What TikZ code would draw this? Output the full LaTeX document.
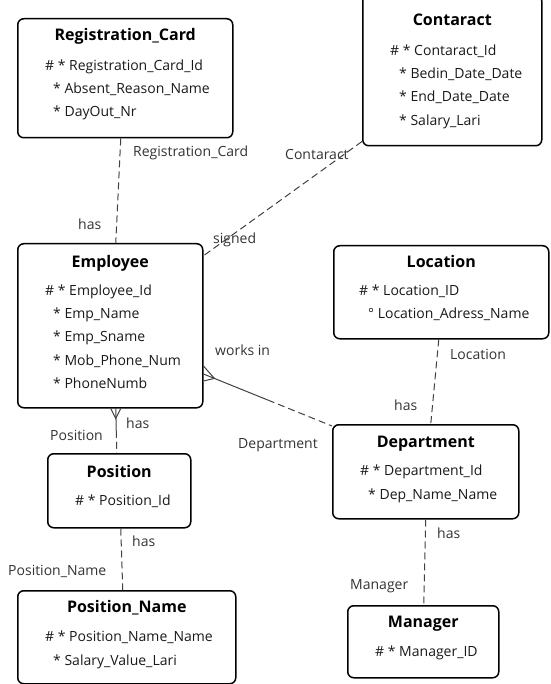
\documentclass[tikz,border=0pt]{standalone}
\usepackage{fontspec}
\setmainfont{Open Sans}
\usetikzlibrary{calc}

\tikzset{
  entity/.style={draw=black, line width=1.5pt, rounded corners=6pt, anchor=north west, inner sep=0pt},
  heading/.style={inner sep=0pt, text height=11.5pt, text depth=3.5pt, font=\fontsize{16}{18}\selectfont\bfseries},
  attr/.style={anchor=west, inner sep=0pt, text height=10pt, text depth=3.5pt, font=\fontsize{14}{16}\selectfont, text=black!90},
  role/.style={attr, text=black!80},
  rel/.style={line width=1pt, draw=black!75, dash pattern=on 7pt off 4pt},
  solidrel/.style={line width=1pt, draw=black!75}
}

\begin{document}
\begin{tikzpicture}[x=1pt, y=-1pt]
  \useasboundingbox (0,0) rectangle (550,684);
  \clip (0,0) rectangle (550,684);

  % entities
  \node[entity, minimum width=215, minimum height=119] (regcard) at (17,18) {};
  \node[heading] (regcard-t) at ($(regcard.north)+(0,19)$) {Registration\_Card};
  \node[attr] (regcard-1) at (45,67) {\# * Registration\_Card\_Id};
  \node[attr] (regcard-2) at (53,90) {* Absent\_Reason\_Name};
  \node[attr] (regcard-3) at (53,113) {* DayOut\_Nr};

  \node[entity, minimum width=179, minimum height=151] (contaract) at (362,-6) {};
  \node[heading] (contaract-t) at ($(contaract.north)+(0,28)$) {Contaract};
  \node[attr] (contaract-1) at (390,52) {\# * Contaract\_Id};
  \node[attr] (contaract-2) at (399,75) {* Bedin\_Date\_Date};
  \node[attr] (contaract-3) at (399,98) {* End\_Date\_Date};
  \node[attr] (contaract-4) at (399,122) {* Salary\_Lari};

  \node[entity, minimum width=185, minimum height=164] (emp) at (17,243) {};
  \node[heading] (emp-t) at ($(emp.north)+(0,20)$) {Employee};
  \node[attr] (emp-1) at (45,292) {\# * Employee\_Id};
  \node[attr] (emp-2) at (53,315) {* Emp\_Name};
  \node[attr] (emp-3) at (53,338) {* Emp\_Sname};
  \node[attr] (emp-4) at (53,362) {* Mob\_Phone\_Num};
  \node[attr] (emp-5) at (53,385) {* PhoneNumb};

  \node[entity, minimum width=215, minimum height=93] (location) at (333,245) {};
  \node[heading] (location-t) at ($(location.north)+(0,18)$) {Location};
  \node[attr] (location-1) at (359,292) {\# * Location\_ID};
  \node[attr] (location-2) at (368,315) {° Location\_Adress\_Name};

  \node[entity, minimum width=186, minimum height=94] (dept) at (332,424) {};
  \node[heading] (dept-t) at ($(dept.north)+(0,19)$) {Department};
  \node[attr] (dept-1) at (360,472) {\# * Department\_Id};
  \node[attr] (dept-2) at (368,496) {* Dep\_Name\_Name};

  \node[entity, minimum width=151, minimum height=72] (mgr) at (347,605) {};
  \node[heading] (mgr-t) at ($(mgr.north)+(0,18)$) {Manager};
  \node[attr] (mgr-1) at (375,653) {\# * Manager\_ID};

  \node[entity, minimum width=143, minimum height=74] (position) at (47,453) {};
  \node[heading] (position-t) at ($(position.north)+(0,20)$) {Position};
  \node[attr] (position-1) at (75,502) {\# * Position\_Id};

  \node[entity, minimum width=218, minimum height=93] (posname) at (17,590) {};
  \node[heading] (posname-t) at ($(posname.north)+(0,18)$) {Position\_Name};
  \node[attr] (posname-1) at (45,638) {\# * Position\_Name\_Name};
  \node[attr] (posname-2) at (53,662) {* Salary\_Value\_Lari};

  % relations
  \draw[rel] ($(regcard.south)+(-4.5,0)$) -- ($(emp.north)+(5.5,0)$);
  \node[role] (l-regcard) at (133,153) {Registration\_Card};
  \node[role] (l-regcard-has) at (78,226) {has};

  \draw[rel] ($(contaract.south west)+(0,-5)$) -- ($(emp.north east)+(1,12)$);
  \node[role] (l-contaract) at (285,156) {Contaract};
  \node[role] (l-signed) at (213,240) {signed};

  \coordinate (wfoot) at ($(emp.north east)+(0,131)$);
  \coordinate (wend) at ($(dept.north west)+(0,2)$);
  \coordinate (wtip) at ($(wfoot)!0.085!(wend)$);
  \draw[solidrel] (wfoot) -- ($(wfoot)!0.5!(wend)$) coordinate (wmid);
  \draw[rel] (wmid) -- (wend);
  \draw[solidrel] ($(wfoot)+(0,-8)$) -- (wtip) -- ($(wfoot)+(0,7)$);
  \node[role] (l-works) at (215,352) {works in};
  \node[role] (l-dept) at (238,445) {Department};

  \coordinate (pfoot) at ($(emp.south)+(5.5,0)$);
  \coordinate (pend) at ($(position.north)+(-2.5,0)$);
  \draw[solidrel] (pfoot) -- ($(pfoot)!0.5!(pend)$) coordinate (pmid);
  \draw[rel] (pmid) -- (pend);
  \draw[solidrel] ($(pfoot)+(-5,0)$) -- ($(pfoot)+(0,10)$) -- ($(pfoot)+(5,0)$);
  \node[role] (l-pos-has) at (126,425) {has};
  \node[role] (l-pos) at (50,437) {Position};

  \draw[rel] ($(position.south)+(1.5,0)$) -- ($(posname.north)+(-4,0)$);
  \node[role] (l-posname-has) at (132,543) {has};
  \node[role] (l-posname) at (8,572) {Position\_Name};

  \draw[rel] ($(location.south)+(-2.5,0)$) -- ($(dept.north)+(5,0)$);
  \node[role] (l-location) at (450,356) {Location};
  \node[role] (l-location-has) at (394,407) {has};

  \draw[rel] (dept.south) -- ($(mgr.north)+(0.5,0)$);
  \node[role] (l-mgr-has) at (437,535) {has};
  \node[role] (l-mgr) at (350,586) {Manager};
\end{tikzpicture}
\end{document}
